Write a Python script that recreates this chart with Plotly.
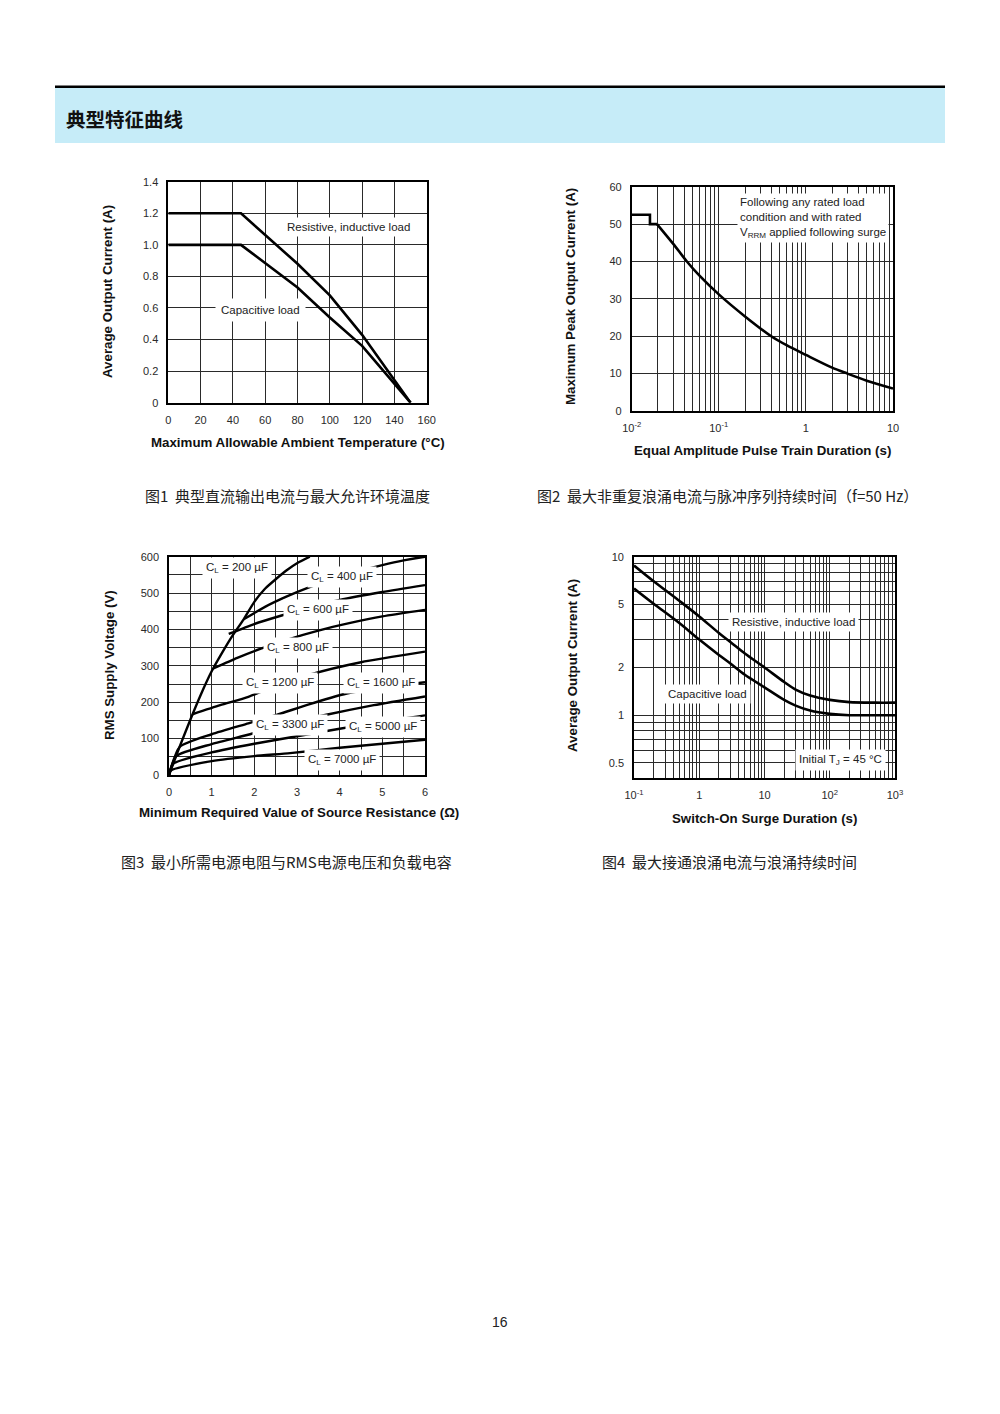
import plotly.graph_objects as go

W, H = 1000, 1414
OFF = 8  # page body margin compensation
def px(x): return (x - OFF) / W
def py(y): return 1 - (y - OFF) / H

FONT = "Liberation Sans, Arial, Helvetica, sans-serif"
CJK = "Noto Sans CJK SC, sans-serif"

# ---------------- Chart 1 data ----------------
temp_res = [0, 45, 80, 100, 120, 140, 150]
cur_res = [1.2, 1.2, 0.88, 0.68, 0.43, 0.14, 0.0]
temp_cap = [0, 45, 80, 100, 120, 140, 150]
cur_cap = [1.0, 1.0, 0.73, 0.54, 0.36, 0.12, 0.0]
x1_ticks = [0, 20, 40, 60, 80, 100, 120, 140, 160]
y1_ticks = [0, 0.2, 0.4, 0.6, 0.8, 1.0, 1.2, 1.4]
y1_text = ["0", "0.2", "0.4", "0.6", "0.8", "1.0", "1.2", "1.4"]

# ---------------- Chart 2 data ----------------
step2_x = [0.01, 0.0162, 0.0162, 0.0195]
step2_y = [52.5, 52.5, 50, 50]
dur2 = [0.0195, 0.03, 0.043, 0.06, 0.1, 0.2, 0.4, 0.6, 1, 2, 3, 5, 10]
peak2 = [50, 44.7, 40, 36.2, 31.2, 25.3, 20, 17.6, 15, 11.6, 10, 8.1, 6.0]
y2_ticks = [0, 10, 20, 30, 40, 50, 60]
x2_ticks = [0.01, 0.1, 1, 10]
x2_text = ["10<sup>-2</sup>", "10<sup>-1</sup>", "1", "10"]

# ---------------- Chart 3 data ----------------
c200_x = [0, 0.25, 0.5, 0.75, 1.0, 1.25, 1.5, 1.75, 2.0, 2.25, 2.5, 2.75, 3.0, 3.3]
c200_y = [0, 78, 152, 222, 285, 337, 385, 428, 476, 512, 538, 562, 582, 600]
c400_x = [1.75, 2.25, 2.75, 3.25, 4.0, 4.5, 5.0, 5.5, 6.0]
c400_y = [428, 462, 490, 514, 545, 562, 577, 590, 600]
c600_x = [1.4, 2.0, 2.6, 3.25, 4.0, 5.0, 6.0]
c600_y = [388, 415, 437, 459, 481, 503, 522]
c800_x = [1.04, 1.6, 2.17, 2.8, 3.5, 4.25, 5.0, 6.0]
c800_y = [293, 322, 348, 373, 397, 418, 436, 454]
c1200_x = [0.55, 1.2, 1.86, 2.5, 3.27, 4.5, 6.0]
c1200_y = [167, 192, 215, 245, 275, 310, 339]
c1600_x = [0, 0.25, 1.0, 1.86, 2.52, 3.3, 4.1, 5.0, 6.0]
c1600_y = [0, 77, 112, 142, 165, 195, 222, 240, 255]
c3300_x = [0, 0.17, 1.0, 1.9, 2.75, 3.66, 4.8, 6.0]
c3300_y = [0, 52, 85, 112, 140, 165, 192, 216]
c5000_x = [0, 0.1, 1.0, 2.0, 3.27, 4.0, 5.0, 6.0]
c5000_y = [0, 31, 62, 86, 112, 127, 147, 164]
c7000_x = [0, 0.04, 1.0, 2.0, 2.84, 4.0, 5.0, 6.0]
c7000_y = [0, 12, 38, 52, 60, 75, 86, 97]
x3_ticks = [0, 1, 2, 3, 4, 5, 6]
x3_minor = [0.5, 1.5, 2.5, 3.5, 4.5, 5.5]
y3_ticks = [0, 100, 200, 300, 400, 500, 600]
y3_minor = [50, 150, 250, 350, 450, 550]

# ---------------- Chart 4 data ----------------
t4 = [0.1, 0.2, 0.5, 1, 2, 3, 5, 10, 20, 30, 50, 100, 200, 500, 1000]
res4 = [8.8, 7.0, 5.25, 4.2, 3.3, 2.9, 2.45, 2.0, 1.62, 1.45, 1.33, 1.25, 1.21, 1.2, 1.2]
cap4 = [6.3, 5.05, 3.8, 3.0, 2.4, 2.12, 1.8, 1.5, 1.25, 1.15, 1.07, 1.02, 1.0, 1.0, 1.0]
x4_ticks = [0.1, 1, 10, 100, 1000]
x4_text = ["10<sup>-1</sup>", "1", "10", "10<sup>2</sup>", "10<sup>3</sup>"]
y4_ticks = [0.5, 1, 2, 5, 10]
y4_text = ["0.5", "1", "2", "5", "10"]
y4_minor = [0.6, 0.7, 0.8, 0.9, 3, 4, 6, 7, 8, 9]

def log_minor(e0, e1):
    return [round(k * 10 ** e, 6) for e in range(e0, e1) for k in range(2, 10)]

x2_minor = log_minor(-2, 1)
x4_minor = log_minor(-1, 3)

fig = go.Figure()
LINE = dict(color="black", width=2.6)
SPL = dict(color="black", width=2.6, shape="spline", smoothing=0.8)

fig.add_trace(go.Scatter(x=temp_res, y=cur_res, mode="lines", line=LINE, xaxis="x", yaxis="y"))
fig.add_trace(go.Scatter(x=temp_cap, y=cur_cap, mode="lines", line=LINE, xaxis="x", yaxis="y"))
fig.add_trace(go.Scatter(x=step2_x, y=step2_y, mode="lines", line=LINE, xaxis="x2", yaxis="y2"))
fig.add_trace(go.Scatter(x=dur2, y=peak2, mode="lines", line=SPL, xaxis="x2", yaxis="y2"))
for cx, cy in [(c200_x, c200_y), (c400_x, c400_y), (c600_x, c600_y), (c800_x, c800_y),
               (c1200_x, c1200_y), (c1600_x, c1600_y), (c3300_x, c3300_y),
               (c5000_x, c5000_y), (c7000_x, c7000_y)]:
    fig.add_trace(go.Scatter(x=cx, y=cy, mode="lines",
                             line=dict(color="black", width=2.4, shape="spline", smoothing=0.6),
                             xaxis="x3", yaxis="y3"))
fig.add_trace(go.Scatter(x=t4, y=res4, mode="lines", line=SPL, xaxis="x4", yaxis="y4"))
fig.add_trace(go.Scatter(x=t4, y=cap4, mode="lines", line=SPL, xaxis="x4", yaxis="y4"))

GC, GW = "#2a2a2a", 1.3
GRID = dict(showgrid=True, gridcolor=GC, gridwidth=GW, zeroline=False, automargin=False,
            showline=True, linecolor="black", linewidth=1.6, mirror=True,
            tickfont=dict(family=FONT, size=11, color="#2a2a2a"), ticklabelstandoff=6, ticks="",
            tickmode="array")

def minor(vals):
    return dict(tickmode="array", tickvals=vals, showgrid=True, gridcolor=GC, gridwidth=GW, ticks="")

def dom_x(a, b): return [px(a), px(b)]
def dom_y(top, bot): return [py(bot), py(top)]

fig.update_layout(
    width=W, height=H, margin=dict(l=0, r=0, t=0, b=0, pad=0, autoexpand=False),
    paper_bgcolor="white", plot_bgcolor="white", showlegend=False,
    font=dict(family=FONT, color="#222"),
    xaxis=dict(domain=dom_x(168.3, 426.7), range=[0, 160], tickvals=x1_ticks, anchor="y", **GRID),
    yaxis=dict(domain=dom_y(181.7, 402.7), range=[0, 1.4], tickvals=y1_ticks, ticktext=y1_text, anchor="x", **GRID),
    xaxis2=dict(domain=dom_x(631.7, 893), type="log", range=[-2, 1], tickvals=x2_ticks, ticktext=x2_text,
                minor=minor(x2_minor), anchor="y2", **GRID),
    yaxis2=dict(domain=dom_y(186.7, 411), range=[0, 60], tickvals=y2_ticks, anchor="x2", **GRID),
    xaxis3=dict(domain=dom_x(169, 425), range=[0, 6], tickvals=x3_ticks, minor=minor(x3_minor), anchor="y3", **GRID),
    yaxis3=dict(domain=dom_y(556.7, 775), range=[0, 600], tickvals=y3_ticks, minor=minor(y3_minor), anchor="x3", **GRID),
    xaxis4=dict(domain=dom_x(634, 895), type="log", range=[-1, 3], tickvals=x4_ticks, ticktext=x4_text,
                minor=minor(x4_minor), anchor="y4", **GRID),
    yaxis4=dict(domain=dom_y(556.7, 778.3), type="log", range=[-0.398, 1], tickvals=y4_ticks, ticktext=y4_text,
                minor=minor(y4_minor), anchor="x4", **GRID),
)

shapes = [
    dict(type="rect", xref="paper", yref="paper", x0=px(55), x1=px(945), y0=py(143), y1=py(88),
         fillcolor="#c6ecf8", line=dict(width=0), layer="below"),
    dict(type="rect", xref="paper", yref="paper", x0=px(55), x1=px(945), y0=py(88), y1=py(85.5),
         fillcolor="black", line=dict(width=0), layer="below"),
]
fig.update_layout(shapes=shapes)

anns = []
def label(text, x, y, size=11.5, **kw):
    anns.append(dict(text=text, x=px(x), y=py(y), xref="paper", yref="paper", showarrow=False,
                     xanchor=kw.pop("xanchor", "center"), yanchor=kw.pop("yanchor", "middle"),
                     bgcolor=kw.pop("bgcolor", "white"), borderpad=kw.pop("borderpad", 2),
                     font=dict(family=FONT, size=size, color=kw.pop("color", "#222")), **kw))

def title(text, x, y, angle=0, size=13.3):
    anns.append(dict(text="<b>" + text + "</b>", x=px(x), y=py(y), xref="paper", yref="paper",
                     showarrow=False, xanchor="center", yanchor="middle", textangle=angle,
                     font=dict(family=FONT, size=size, color="#111")))

def caption(text, x, y):
    anns.append(dict(text=text, x=px(x), y=py(y), xref="paper", yref="paper", showarrow=False,
                     xanchor="center", yanchor="middle", font=dict(family=CJK, size=15, color="#222")))

# header
anns.append(dict(text="<b>典型特征曲线</b>", x=px(64), y=py(118), xref="paper", yref="paper", showarrow=False,
                 xanchor="left", yanchor="middle", font=dict(family=CJK, size=19.5, color="#111")))

# chart 1
label("Resistive, inductive load", 348.3, 226.7, borderpad=3)
label("Capacitive load", 260.5, 310, borderpad=5)
title("Average Output Current (A)", 107, 292, angle=-90)
title("Maximum Allowable Ambient Temperature (°C)", 298, 442)
caption("图1  典型直流输出电流与最大允许环境温度", 287, 496)

# chart 2
anns.append(dict(text="Following any rated load<br>condition and with rated<br>V<sub>RRM</sub> applied following surge",
                 x=px(737), y=py(193), xref="paper", yref="paper", showarrow=False, xanchor="left", yanchor="top",
                 align="left", bgcolor="white", borderpad=2, font=dict(family=FONT, size=11.5, color="#222")))
title("Maximum Peak Output Current (A)", 570, 297, angle=-90)
title("Equal Amplitude Pulse Train Duration (s)", 762, 450)
caption("图2  最大非重复浪涌电流与脉冲序列持续时间（f=50 Hz）", 727, 496)

# chart 3
for t, x, y in [("200", 236.5, 567.7), ("400", 341.7, 576.7), ("600", 318, 610), ("800", 297.5, 648.3),
                ("1200", 280, 683.3), ("1600", 381, 682.5), ("3300", 289.5, 725), ("5000", 382.5, 726.5),
                ("7000", 341.6, 760)]:
    label("C<sub>L</sub> = " + t + " µF", x, y, size=11.5, borderpad=3)
title("RMS Supply Voltage (V)", 109, 665, angle=-90)
title("Minimum Required Value of Source Resistance (Ω)", 299, 813)
caption("图3  最小所需电源电阻与RMS电源电压和负载电容", 286, 861)

# chart 4
label("Resistive, inductive load", 793, 622.3, borderpad=3)
label("Capacitive load", 707, 694, borderpad=3)
label("Initial T<sub>J</sub> = 45 °C", 840, 760, borderpad=3)
title("Average Output Current (A)", 572, 666, angle=-90)
title("Switch-On Surge Duration (s)", 764, 818)
caption("图4  最大接通浪涌电流与浪涌持续时间", 729, 861)

# page number
anns.append(dict(text="16", x=px(500), y=py(1322), xref="paper", yref="paper", showarrow=False,
                 xanchor="center", yanchor="middle", font=dict(family=FONT, size=14, color="#222")))

fig.update_layout(annotations=anns)
fig.write_html("out.html")
